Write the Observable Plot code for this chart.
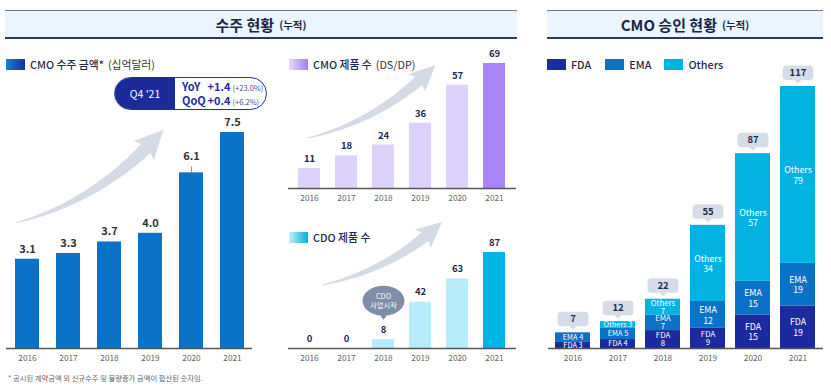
<!DOCTYPE html>
<html>
<head>
<meta charset="utf-8">
<script src="https://cdn.jsdelivr.net/npm/d3@7"></script>
<script src="https://cdn.jsdelivr.net/npm/@observablehq/plot@0.6"></script>
<style>
  body { margin: 0; background: #fff; font-family: "Noto Sans CJK KR", "Noto Sans", sans-serif; }
  #root { position: relative; width: 831px; height: 390px; overflow: hidden; }
  .hdr { position: absolute; top: 10px; height: 26px; background: #eaf5fd; border-top: 1.5px solid #6b7894; border-bottom: 2px solid #2b3866;
         display: flex; align-items: center; justify-content: center; color: #1c2444; font-weight: 700; font-size: 15px; }
  .hdr small { font-size: 10.5px; margin-left: 5px; font-weight: 700; }
  .plot { position: absolute; }
  .leg { position: absolute; display: flex; align-items: center; font-size: 10.8px; font-weight: 500; color: #1f2a4a; white-space: nowrap; }
  .sw { width: 19px; height: 11px; margin-right: 5px; flex: none; }
  .leg .lt { font-weight: 400; color: #333; margin-left: 4px; }
  #callout { position: absolute; left: 114px; top: 77px; width: 153px; height: 33px; border: 1.5px solid #1f2f9e; border-radius: 17px;
             overflow: hidden; display: flex; box-sizing: border-box; background: #fff; }
  #callout .q { width: 60px; background: #1b2b9c; color: #fff; font-size: 10.5px; display: flex; align-items: center; justify-content: center; }
  #callout .r { padding-left: 7px; display: flex; flex-direction: column; justify-content: center; color: #1f2f9e; font-size: 11px; font-weight: 700; line-height: 13px; }
  #callout .r span.k { display: inline-block; width: 23px; }
  #callout .r span.p { font-size: 7.5px; font-weight: 400; color: #44508a; margin-left: 2px; }
  #foot { position: absolute; left: 8px; top: 373px; font-size: 7.3px; color: #666; }
</style>
</head>
<body>
<div id="root"></div>
<script>
// ---------------- data ----------------
const years = ["2016", "2017", "2018", "2019", "2020", "2021"];
const cmoOrderAmount = [3.1, 3.3, 3.7, 4.0, 6.1, 7.5];      // 십억달러
const cmoProducts = [11, 18, 24, 36, 57, 69];
const cdoProducts = [0, 0, 8, 42, 63, 87];
const approvalSeries = ["FDA", "EMA", "Others"];
const fda = [3, 4, 8, 9, 15, 19];
const ema = [4, 5, 7, 12, 15, 19];
const others = [0, 3, 7, 34, 57, 79];
const seriesColors = ["#1b2a9e", "#0b73c7", "#02b3e2"];
const calloutPeriod = "Q4 '21";
const calloutRows = [["YoY", "+1.4", "(+23.0%)"], ["QoQ", "+0.4", "(+6.2%)"]];
const cdoStart = {year: "2018", text: "CDO\n사업시작"};

const FONT = '"Noto Sans CJK KR", "Noto Sans", sans-serif';
const root = document.getElementById("root");

// ---------------- helpers ----------------
function arrowPath(S, C, E, w0, w1, hw, hl) {
  const N = 80, pts = [];
  for (let i = 0; i <= N; i++) {
    const t = i / N, u = 1 - t;
    pts.push([u*u*S[0] + 2*u*t*C[0] + t*t*E[0], u*u*S[1] + 2*u*t*C[1] + t*t*E[1]]);
  }
  const len = [0];
  for (let i = 1; i <= N; i++) len[i] = len[i-1] + Math.hypot(pts[i][0]-pts[i-1][0], pts[i][1]-pts[i-1][1]);
  const L = len[N];
  let k = N;
  while (k > 0 && L - len[k] < hl) k--;
  const left = [], right = [];
  for (let i = 0; i <= k; i++) {
    const a = pts[Math.max(0, i-1)], b = pts[Math.min(N, i+1)];
    let tx = b[0]-a[0], ty = b[1]-a[1]; const m = Math.hypot(tx, ty); tx /= m; ty /= m;
    const nx = -ty, ny = tx;
    const w = w0 + (w1 - w0) * (len[i] / len[k]);
    left.push([pts[i][0] + nx*w/2, pts[i][1] + ny*w/2]);
    right.push([pts[i][0] - nx*w/2, pts[i][1] - ny*w/2]);
  }
  const B = pts[k];
  let hx = E[0]-B[0], hy = E[1]-B[1]; const hm = Math.hypot(hx, hy); hx /= hm; hy /= hm;
  const nx = -hy, ny = hx;
  const h1 = [B[0] + nx*hw/2 - hx*3, B[1] + ny*hw/2 - hy*3];
  const h2 = [B[0] - nx*hw/2 - hx*3, B[1] - ny*hw/2 - hy*3];
  const all = [...left, h1, E, h2, ...right.reverse()];
  return "M" + all.map(p => p[0].toFixed(2) + "," + p[1].toFixed(2)).join("L") + "Z";
}
function arrowDecor(start, end, {w0 = 1, w1 = 12, hw = 26, hl = 22, fill = "#d5dbe5"} = {}) {
  return (index, scales) => {
    const sx = scales.x, sy = scales.y;
    const bw = typeof sx.bandwidth === "function" ? sx.bandwidth() : 0;
    const P = a => [sx(a.year) + a.pos * bw, sy(a.v)];
    const S = P(start), E = P(end);
    const dx = E[0]-S[0], dy = E[1]-S[1];
    const C = [S[0] + 0.58*dx, S[1] + 0.24*dy];
    const g = document.createElementNS("http://www.w3.org/2000/svg", "g");
    const p = document.createElementNS("http://www.w3.org/2000/svg", "path");
    p.setAttribute("d", arrowPath(S, C, E, w0, w1, hw, hl));
    p.setAttribute("fill", fill);
    g.appendChild(p);
    return g;
  };
}
const tagSymbol = {
  draw(ctx) {
    const w = 31, h = 14.5, r = 4, b = -3.5;
    const x0 = -w/2, x1 = w/2, y0 = b - h, y1 = b;
    ctx.moveTo(x0 + r, y0); ctx.lineTo(x1 - r, y0); ctx.arcTo(x1, y0, x1, y0 + r, r);
    ctx.lineTo(x1, y1 - r); ctx.arcTo(x1, y1, x1 - r, y1, r);
    ctx.lineTo(3.5, y1); ctx.lineTo(0, 0); ctx.lineTo(-3.5, y1);
    ctx.lineTo(x0 + r, y1); ctx.arcTo(x0, y1, x0, y1 - r, r);
    ctx.lineTo(x0, y0 + r); ctx.arcTo(x0, y0, x0 + r, y0, r); ctx.closePath();
  }
};
const bubbleSymbol = {
  draw(ctx) {
    const cx = 0, cy = -19, rx = 21, ry = 15, k = 0.5523;
    ctx.moveTo(cx + rx, cy);
    ctx.bezierCurveTo(cx + rx, cy + k*ry, cx + k*rx, cy + ry, cx, cy + ry);
    ctx.bezierCurveTo(cx - k*rx, cy + ry, cx - rx, cy + k*ry, cx - rx, cy);
    ctx.bezierCurveTo(cx - rx, cy - k*ry, cx - k*rx, cy - ry, cx, cy - ry);
    ctx.bezierCurveTo(cx + k*rx, cy - ry, cx + rx, cy - k*ry, cx + rx, cy);
    ctx.closePath();
    ctx.moveTo(-4.5, -6); ctx.lineTo(4.5, -6); ctx.lineTo(0, 0); ctx.closePath();
  }
};
function basePlot({width, height, mt, mb, ml, mr, domain, pi, po, marks, extra = {}}) {
  return Plot.plot({
    width, height, marginTop: mt, marginBottom: mb, marginLeft: ml, marginRight: mr,
    x: {type: "band", domain: years, paddingInner: pi, paddingOuter: po, label: null, tickSize: 0, tickPadding: 7},
    y: {domain, axis: null},
    style: {fontFamily: FONT, fontSize: "8.3px", fontWeight: 400, color: "#666", background: "transparent", overflow: "visible"},
    marks,
    ...extra
  });
}
function place(node, left, top) {
  const d = document.createElement("div");
  d.className = "plot"; d.style.left = left + "px"; d.style.top = top + "px";
  d.appendChild(node); root.appendChild(d);
}
function html(s) { root.insertAdjacentHTML("beforeend", s); }

// ---------------- panel 1: CMO 수주 금액 ----------------
const d1 = years.map((year, i) => ({year, value: cmoOrderAmount[i]}));
place(basePlot({
  width: 260, height: 370, mt: 132, mb: 22, ml: 6, mr: 8, domain: [0, 7.5], pi: 0.417, po: 0.2,
  marks: [
    arrowDecor({year: "2016", pos: 0.05, v: 4.35}, {year: "2019", pos: 1.05, v: 7.57}, {w1: 13, hw: 28, hl: 24}),
    Plot.barY(d1, {x: "year", y: "value", fill: "#0b73c7"}),
    Plot.ruleY([0], {stroke: "#555", strokeWidth: 1.5}),
    Plot.ruleX(d1.filter(d => d.year === "2020"), {x: "year", y1: "value", y2: d => d.value + 0.2, stroke: "#777", strokeWidth: 0.8}),
    Plot.text(d1.filter(d => d.year !== "2020"), {x: "year", y: "value", text: d => d.value.toFixed(1), dy: -10, fontSize: 11, fontWeight: 600, fill: "#333"}),
    Plot.text(d1.filter(d => d.year === "2020"), {x: "year", y: "value", text: d => d.value.toFixed(1), dy: -16, fontSize: 11, fontWeight: 600, fill: "#333"})
  ]
}), 0, 0);

// ---------------- panel 2: CMO 제품 수 ----------------
const d2 = years.map((year, i) => ({year, value: cmoProducts[i]}));
const last = years[years.length - 1];
place(basePlot({
  width: 250, height: 210, mt: 63, mb: 22, ml: 8, mr: 14, domain: [0, 69], pi: 0.405, po: 0.218,
  marks: [
    arrowDecor({year: "2016", pos: 0.44, v: 27.6}, {year: "2019", pos: 1.2, v: 67.9}, {w1: 11, hw: 24, hl: 21}),
    Plot.barY(d2.filter(d => d.year !== last), {x: "year", y: "value", fill: "#ddd2fc"}),
    Plot.barY(d2.filter(d => d.year === last), {x: "year", y: "value", fill: "#a985f7"}),
    Plot.ruleY([0], {stroke: "#555", strokeWidth: 1.5}),
    Plot.text(d2, {x: "year", y: "value", text: "value", dy: -9.5, fontSize: 9.5, fontWeight: 700, fill: "#1f2a4f"})
  ]
}), 280, 0);

// ---------------- panel 3: CDO 제품 수 ----------------
const d3v = years.map((year, i) => ({year, value: cdoProducts[i]}));
const ann = [{year: cdoStart.year, text: cdoStart.text, value: cdoProducts[years.indexOf(cdoStart.year)]}];
place(basePlot({
  width: 250, height: 170, mt: 52, mb: 22, ml: 8, mr: 14, domain: [0, 87], pi: 0.405, po: 0.218,
  marks: [
    arrowDecor({year: "2016", pos: 1.1, v: 57.1}, {year: "2019", pos: 1.5, v: 114.2}, {w1: 11, hw: 24, hl: 21}),
    Plot.barY(d3v.filter(d => d.year !== last), {x: "year", y: "value", fill: "#b6ecfc"}),
    Plot.barY(d3v.filter(d => d.year === last), {x: "year", y: "value", fill: "#00b4e3"}),
    Plot.ruleY([0], {stroke: "#555", strokeWidth: 1.5}),
    Plot.text(d3v, {x: "year", y: "value", text: "value", dy: -10, fontSize: 9.5, fontWeight: 700, fill: "#1f2a4f"}),
    Plot.dot(ann, {x: "year", y: "value", symbol: bubbleSymbol, fill: "#7e8da8", stroke: "none", dy: -20}),
    Plot.text(ann, {x: "year", y: "value", text: "text", dy: -39, fontSize: 7.3, lineHeight: 1.15, fill: "#fff"})
  ]
}), 280, 200);

// ---------------- panel 4: CMO 승인 현황 ----------------
const segs = [];
const totals = [];
years.forEach((year, i) => {
  let base = 0;
  [fda[i], ema[i], others[i]].forEach((v, j) => {
    if (v > 0) segs.push({year, series: approvalSeries[j], value: v, y1: base, y2: base + v, mid: base + v / 2});
    base += v;
  });
  totals.push({year, total: base});
});
place(basePlot({
  width: 301, height: 370, mt: 86, mb: 22, ml: 18, mr: 8, domain: [0, 117], pi: 0.217, po: 0.098,
  extra: {color: {domain: approvalSeries, range: seriesColors}},
  marks: [
    Plot.barY(segs, {x: "year", y1: "y1", y2: "y2", fill: "series"}),
    Plot.ruleY([0], {stroke: "#555", strokeWidth: 1.5}),
    Plot.text(segs.filter(d => d.value < 7), {x: "year", y: "mid", text: d => `${d.series} ${d.value}`, fill: "#fff", fontSize: 7.4}),
    Plot.text(segs.filter(d => d.value >= 7 && d.value < 10), {x: "year", y: "mid", text: d => `${d.series}\n${d.value}`, fill: "#fff", fontSize: 7.8, lineHeight: 1.05}),
    Plot.text(segs.filter(d => d.value >= 10), {x: "year", y: "mid", text: d => `${d.series}\n${d.value}`, fill: "#fff", fontSize: 8.8, lineHeight: 1.2}),
    Plot.dot(totals, {x: "year", y: "total", symbol: tagSymbol, fill: "#d6dde8", stroke: "none", dy: -3}),
    Plot.text(totals, {x: "year", y: "total", text: "total", dy: -13.5, fontSize: 9.5, fontWeight: 700, fill: "#1f2a4f"})
  ]
}), 530, 0);

// ---------------- HTML text: headers, legends, callout, footnote ----------------
html(`<div class="hdr" style="left:5px;width:512px;">수주 현황<small>(누적)</small></div>`);
html(`<div class="hdr" style="left:547px;width:276px;">CMO 승인 현황<small>(누적)</small></div>`);
html(`<div class="leg" style="left:6px;top:56px;"><div class="sw" style="background:linear-gradient(to right,#1482d9,#1b2f9c);"></div><span>CMO 수주 금액*</span><span class="lt">(십억달러)</span></div>`);
html(`<div class="leg" style="left:289px;top:56px;"><div class="sw" style="background:linear-gradient(to right,#e2d9fd,#a47ff5);"></div><span>CMO 제품 수</span><span class="lt">(DS/DP)</span></div>`);
html(`<div class="leg" style="left:289px;top:229px;"><div class="sw" style="background:linear-gradient(to right,#c3f1fd,#03addd);"></div><span>CDO 제품 수</span></div>`);
html(`<div class="leg" style="left:547px;top:56px;">` + approvalSeries.map((s, i) =>
  `<div class="sw" style="background:${seriesColors[i]}"></div><span style="margin-right:${i === 0 ? 14 : 13}px">${s}</span>`).join("") + `</div>`);
html(`<div id="callout"><div class="q">${calloutPeriod}</div><div class="r">` +
  calloutRows.map(r => `<div><span class="k">${r[0]}</span> ${r[1]}<span class="p">${r[2]}</span></div>`).join("") + `</div></div>`);
html(`<div id="foot">* 공시된 계약금액 외 신규수주 및 물량증가 금액이 합산된 숫자임.</div>`);
</script>
</body>
</html>
